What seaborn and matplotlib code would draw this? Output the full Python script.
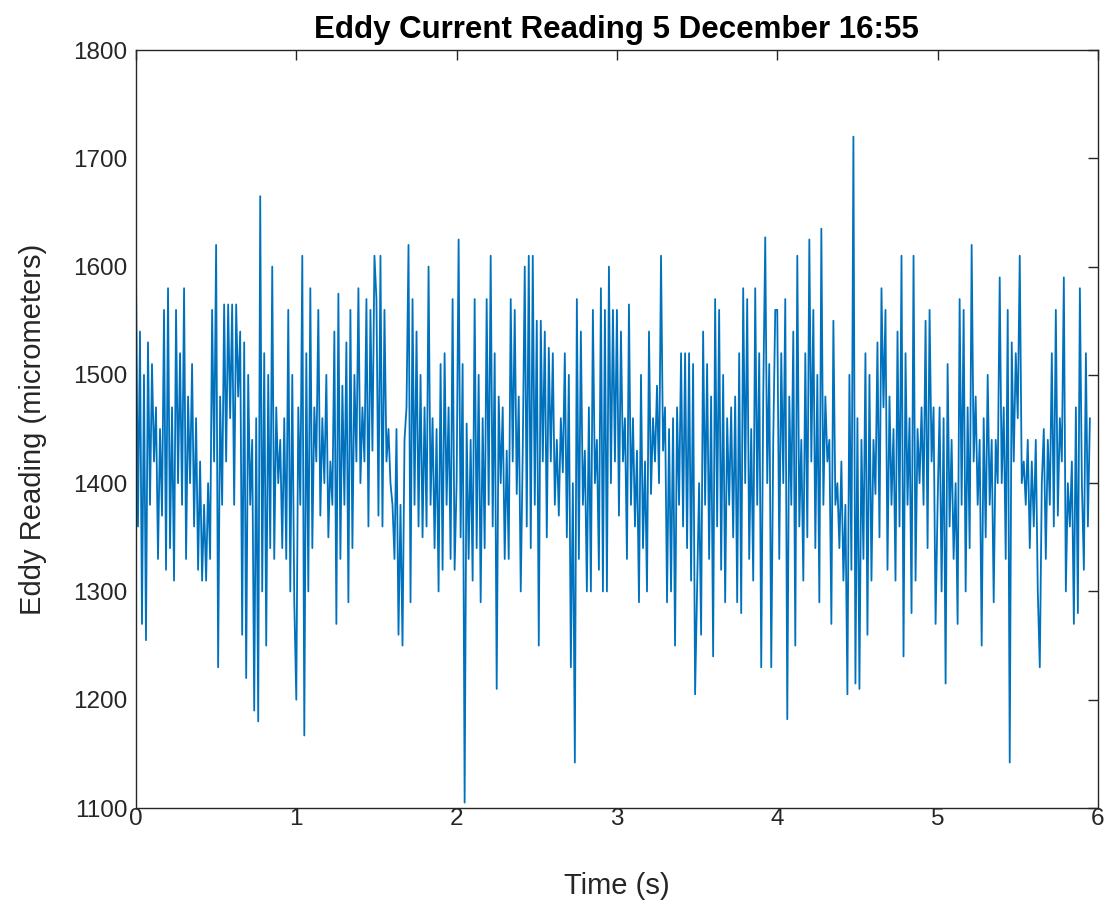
import numpy as np
import pandas as pd
import matplotlib
matplotlib.use("Agg")
import matplotlib.pyplot as plt
import seaborn as sns

# Eddy current probe readings (micrometers), sampled every 12.5 ms
SAMPLE_PERIOD = 0.0125

reading_0_0 = [1600, 1360, 1540, 1270, 1500, 1255, 1530, 1380, 1510, 1420,
               1470, 1330, 1450, 1370, 1560, 1320, 1580, 1340, 1470, 1310,
               1560, 1400, 1520, 1380, 1580, 1330, 1480, 1400, 1510, 1360,
               1460, 1320, 1420, 1310, 1380, 1310, 1400, 1330, 1560, 1420]
reading_0_5 = [1620, 1230, 1480, 1380, 1565, 1420, 1565, 1460, 1565, 1380,
               1565, 1480, 1540, 1260, 1530, 1220, 1500, 1380, 1440, 1190,
               1460, 1180, 1665, 1300, 1520, 1250, 1500, 1340, 1600, 1330,
               1470, 1400, 1440, 1340, 1460, 1330, 1560, 1300, 1500, 1290]
reading_1_0 = [1200, 1470, 1380, 1610, 1167, 1520, 1300, 1580, 1340, 1470,
               1420, 1560, 1370, 1460, 1400, 1500, 1350, 1420, 1380, 1540,
               1270, 1575, 1330, 1490, 1380, 1530, 1290, 1560, 1340, 1500,
               1420, 1580, 1400, 1470, 1420, 1570, 1360, 1560, 1430, 1610]
reading_1_5 = [1570, 1370, 1610, 1360, 1560, 1420, 1450, 1400, 1380, 1330,
               1450, 1260, 1380, 1250, 1440, 1470, 1620, 1290, 1570, 1380,
               1540, 1360, 1500, 1350, 1470, 1360, 1600, 1380, 1460, 1340,
               1450, 1300, 1510, 1320, 1520, 1380, 1470, 1330, 1570, 1320]
reading_2_0 = [1400, 1625, 1350, 1510, 1105, 1455, 1330, 1440, 1310, 1570,
               1340, 1500, 1290, 1460, 1340, 1570, 1380, 1610, 1360, 1520,
               1210, 1480, 1400, 1470, 1330, 1430, 1330, 1570, 1420, 1560,
               1390, 1480, 1300, 1430, 1600, 1360, 1610, 1340, 1610, 1380]
reading_2_5 = [1550, 1250, 1550, 1420, 1540, 1350, 1525, 1420, 1520, 1380,
               1440, 1370, 1460, 1410, 1520, 1350, 1500, 1230, 1400, 1142,
               1570, 1330, 1540, 1380, 1430, 1300, 1470, 1300, 1560, 1400,
               1440, 1320, 1580, 1300, 1560, 1300, 1600, 1400, 1560, 1420]
reading_3_0 = [1560, 1370, 1540, 1420, 1460, 1330, 1565, 1380, 1460, 1360,
               1430, 1290, 1500, 1340, 1420, 1300, 1540, 1390, 1460, 1420,
               1490, 1400, 1610, 1430, 1470, 1290, 1450, 1300, 1460, 1250,
               1470, 1380, 1520, 1360, 1520, 1340, 1520, 1310, 1510, 1205]
reading_3_5 = [1300, 1400, 1260, 1540, 1380, 1510, 1330, 1480, 1240, 1570,
               1360, 1560, 1320, 1500, 1290, 1460, 1380, 1470, 1350, 1480,
               1290, 1520, 1280, 1580, 1400, 1570, 1330, 1450, 1310, 1580,
               1380, 1520, 1230, 1480, 1627, 1400, 1510, 1230, 1440, 1560]
reading_4_0 = [1560, 1330, 1520, 1400, 1570, 1182, 1480, 1380, 1540, 1250,
               1610, 1360, 1440, 1310, 1520, 1350, 1625, 1420, 1560, 1340,
               1500, 1290, 1635, 1380, 1480, 1420, 1440, 1270, 1550, 1380,
               1400, 1340, 1420, 1310, 1380, 1205, 1500, 1320, 1720, 1215]
reading_4_5 = [1460, 1210, 1440, 1330, 1520, 1260, 1500, 1310, 1440, 1390,
               1530, 1350, 1580, 1470, 1560, 1320, 1480, 1380, 1450, 1310,
               1540, 1360, 1610, 1240, 1520, 1380, 1460, 1280, 1610, 1310,
               1450, 1400, 1470, 1380, 1550, 1340, 1560, 1420, 1470, 1270]
reading_5_0 = [1380, 1470, 1300, 1460, 1215, 1510, 1360, 1440, 1330, 1400,
               1270, 1570, 1380, 1560, 1300, 1470, 1340, 1620, 1420, 1480,
               1380, 1440, 1250, 1460, 1350, 1500, 1380, 1440, 1290, 1440,
               1400, 1590, 1400, 1470, 1330, 1560, 1142, 1530, 1420, 1520]
reading_5_5 = [1460, 1610, 1400, 1420, 1380, 1440, 1340, 1420, 1360, 1440,
               1300, 1230, 1400, 1450, 1330, 1440, 1380, 1520, 1360, 1560,
               1370, 1460, 1420, 1590, 1300, 1400, 1360, 1420, 1270, 1470,
               1280, 1580, 1400, 1320, 1520, 1360, 1460]

x_ticks = [0, 1, 2, 3, 4, 5, 6]
y_ticks = [1100, 1200, 1300, 1400, 1500, 1600, 1700, 1800]

readings = (reading_0_0 + reading_0_5 + reading_1_0 + reading_1_5 +
            reading_2_0 + reading_2_5 + reading_3_0 + reading_3_5 +
            reading_4_0 + reading_4_5 + reading_5_0 + reading_5_5)
df = pd.DataFrame({
    "time": np.arange(len(readings)) * SAMPLE_PERIOD,
    "reading": readings,
})

sns.set_style("white")
plt.rcParams["font.family"] = ["Liberation Sans", "DejaVu Sans"]

fig = plt.figure(figsize=(11.09, 9.01), dpi=100)
ax = fig.add_axes([0.1226, 0.1032, 0.8674, 0.8413])

sns.lineplot(data=df, x="time", y="reading", ax=ax, color="#0072BD",
             linewidth=1.3, estimator=None, sort=False)

ax.set_xlim(0, 6)
ax.set_ylim(1100, 1800)
ax.set_xticks(x_ticks)
ax.set_yticks(y_ticks)

text_color = "#262626"
for spine in ax.spines.values():
    spine.set_visible(True)
    spine.set_color(text_color)
    spine.set_linewidth(1.0)

ax.tick_params(axis="both", which="both", direction="in", length=7,
               width=1.0, color=text_color, labelcolor=text_color,
               labelsize=17.5, top=True, right=True)
ax.tick_params(axis="x", pad=0)
ax.tick_params(axis="y", pad=6)

ax.set_xlabel("Time (s)", fontsize=21, color=text_color, labelpad=30)
ax.set_ylabel("Eddy Reading (micrometers)", fontsize=21, color=text_color,
              labelpad=19)
ax.set_title("Eddy Current Reading 5 December 16:55", fontsize=22.5,
             fontweight="bold", color="black", pad=9)

fig.savefig("out.png", dpi=100)
